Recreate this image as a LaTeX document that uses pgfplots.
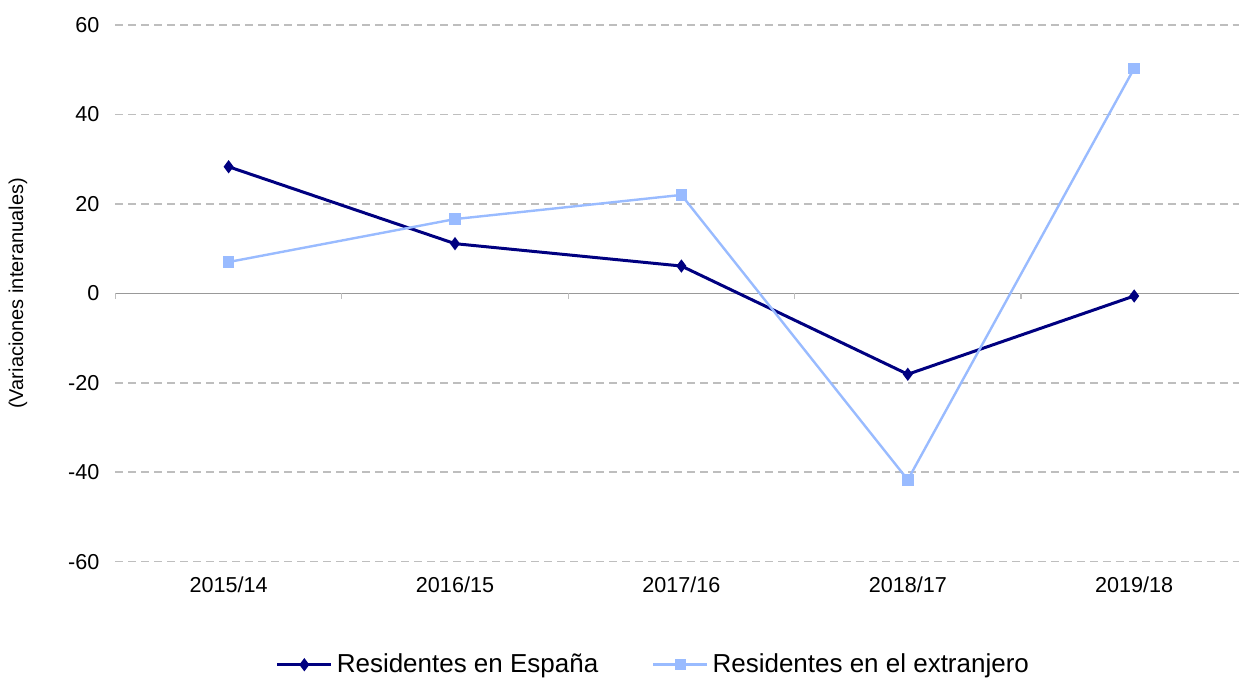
\documentclass[border=0pt]{standalone}
\usepackage{fontspec}
\setmainfont{Liberation Sans}
\usepackage{pgfplots}
\pgfplotsset{compat=1.18}
\definecolor{navy}{HTML}{000080}
\definecolor{lblue}{HTML}{99BBFF}
\definecolor{gridc}{HTML}{BEBEBE}
\definecolor{zeroc}{HTML}{999999}
\begin{document}
\begin{tikzpicture}
\begin{axis}[
  name=ax,
  scale only axis,
  width=562.25pt, height=268.5pt,
  xmin=-0.5, xmax=4.464,
  ymin=-60, ymax=60,
  ytick={-60,-40,-20,0,20,40,60},
  xtick={0,1,2,3,4},
  xticklabels={2015/14,2016/15,2017/16,2018/17,2019/18},
  axis line style={draw=none},
  major tick length=0pt,
  ymajorgrids,
  grid style={gridc, line width=0.8pt, dash pattern=on 4pt off 2.5pt},
  tick label style={font=\fontsize{10.8}{12}\selectfont},
  xticklabel style={yshift=-4pt},
  yticklabel style={xshift=-4.5pt},
  /pgf/number format/assume math mode=true,
  ylabel={(Variaciones interanuales)},
  every axis y label/.style={at={(axis description cs:-0.0867,0.5)}, rotate=90, anchor=center, font=\fontsize{10}{11}\selectfont},
  clip=false,
  legend style={at={(axis description cs:0.4796,-0.192)}, anchor=center, draw=none, legend columns=2, font=\fontsize{13}{14}\selectfont, /tikz/every even column/.append style={column sep=25pt}, /tikz/every odd column/.append style={}},
  legend cell align=left,
  legend image code/.code={\draw[#1] (0pt,0pt) -- (27pt,0pt); \draw[#1,mark repeat=1] plot coordinates {(13.5pt,0pt)};},
]
\draw[zeroc, line width=0.8pt] (axis cs:-0.5,0) -- (axis cs:4.464,0);
\pgfplotsinvokeforeach{-0.5,0.5,1.5,2.5,3.5}{
  \draw[gridc, line width=0.6pt] (axis cs:#1,0) -- ++(0pt,-3pt);
}
\addplot[navy, line width=1.5pt, mark=diamond*, mark size=2.1pt, mark options={solid, fill=navy}] coordinates {
  (0,28.3) (1,11.1) (2,6.1) (3,-18.1) (4,-0.6)
};
\addlegendentry{Residentes en España}
\addplot[lblue, line width=1.2pt, mark=square*, mark size=2.3pt, mark options={solid, fill=lblue}] coordinates {
  (0,7.0) (1,16.6) (2,22.0) (3,-41.7) (4,50.3)
};
\addlegendentry{Residentes en el extranjero}
\end{axis}
\path[use as bounding box] ([xshift=-57.75pt, yshift=-58.5pt]ax.south west) rectangle ([xshift=562.25pt, yshift=281pt]ax.south west);
\end{tikzpicture}
\end{document}
